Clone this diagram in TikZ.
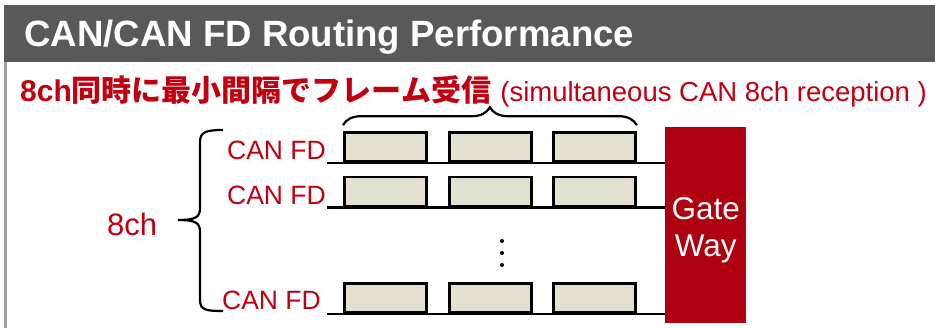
\documentclass[tikz,border=0pt]{standalone}
\usepackage{fontspec}
\setmainfont{Liberation Sans}
\newfontfamily\cjk{Noto Sans CJK JP}
\usepackage{tikz}
\usetikzlibrary{positioning}
\usetikzlibrary{decorations.pathreplacing}
\definecolor{gwred}{HTML}{AE0011}
\definecolor{txtred}{HTML}{C00010}
\definecolor{bandgray}{HTML}{595959}
\definecolor{framefill}{HTML}{E4E0D0}

\begin{document}
\begin{tikzpicture}[x=1pt,y=-1pt,
    canlabel/.style={text=txtred, font=\fontsize{26.5}{30}\selectfont, inner sep=0pt, anchor=base east},
    canframe/.style={rectangle, draw=black, fill=framefill, line width=2.8pt, minimum width=82pt, minimum height=29pt, inner sep=0pt, anchor=south west},
    busline/.style={line width=2.8pt},
    bracket/.style={line width=2.2pt}]
    \useasboundingbox (0,0) rectangle (935,328);
    %
    % header
    \draw[gray!75, line width=3pt] (5.5,5) -- (5.5,328);
    \fill[bandgray] (4,5) rectangle (935,62);
    \node[anchor=base west, inner sep=0pt, text=white, font=\bfseries\fontsize{36.6}{42}\selectfont] (title) at (24,47) {CAN/CAN FD Routing Performance};
    %
    \node[anchor=base west, inner sep=0pt, text=txtred, font=\bfseries\fontsize{30}{34}\selectfont] (jp) at (20,102) {8ch{\cjk 同時に最小間隔でフレーム受信}};
    \node[right=9pt of jp.base east, anchor=base west, inner sep=0pt, text=txtred, font=\fontsize{27.5}{32}\selectfont] (en) {(simultaneous CAN 8ch reception )};
    %
    % gateway
    \node[anchor=north west, fill=gwred, minimum width=81pt, minimum height=196pt, inner sep=0pt] (gw) at (665,127) {};
    \node[text=white, align=center, inner sep=0pt, font=\fontsize{31.5}{37}\selectfont] (gwtext) at ([yshift=-5pt]gw.center) {Gate\\Way};
    %
    % channels
    \node[canlabel] (can_1) at (326,160) {CAN FD};
    \node[canlabel] (can_2) at (326,205) {CAN FD};
    \node[canlabel] (can_3) at (321,310) {CAN FD};
    %
    \coordinate (s_1) at (327,163);
    \coordinate (s_2) at (327,207.5);
    \coordinate (s_3) at (327,314);
    \draw[busline] (s_1) -- (s_1 -| gw.west);
    \draw[busline] (s_2) -- (s_2 -| gw.west);
    \draw[busline] (s_3) -- (s_3 -| gw.west);
    %
    \node[canframe] (f_11) at (343,163) {};
    \node[canframe] (f_12) at (448,163) {};
    \node[canframe] (f_13) at (552,163) {};
    \node[canframe] (f_21) at (343,207.5) {};
    \node[canframe] (f_22) at (448,207.5) {};
    \node[canframe] (f_23) at (552,207.5) {};
    \node[canframe] (f_31) at (343,314) {};
    \node[canframe] (f_32) at (448,314) {};
    \node[canframe] (f_33) at (552,314) {};
    %
    \fill (502,241) circle (2);
    \fill (502,253) circle (2);
    \fill (502,265) circle (2);
    %
    % braces
    \draw[bracket, decorate, decoration={brace, amplitude=18pt}] ([yshift=6pt]f_11.north west) -- ([yshift=6pt]f_13.north east);
    \draw[bracket] (223,130) .. controls (206,130) and (200,132) .. (200,142) -- (200,208)
        .. controls (200,217) and (196,220) .. (178,220)
        .. controls (196,220) and (200,223) .. (200,232) -- (200,300)
        .. controls (200,310) and (206,311) .. (223,311);
    \node[anchor=base west, inner sep=0pt, text=txtred, font=\fontsize{31}{36}\selectfont] (ch) at (107,236) {8ch};
\end{tikzpicture}
\end{document}
